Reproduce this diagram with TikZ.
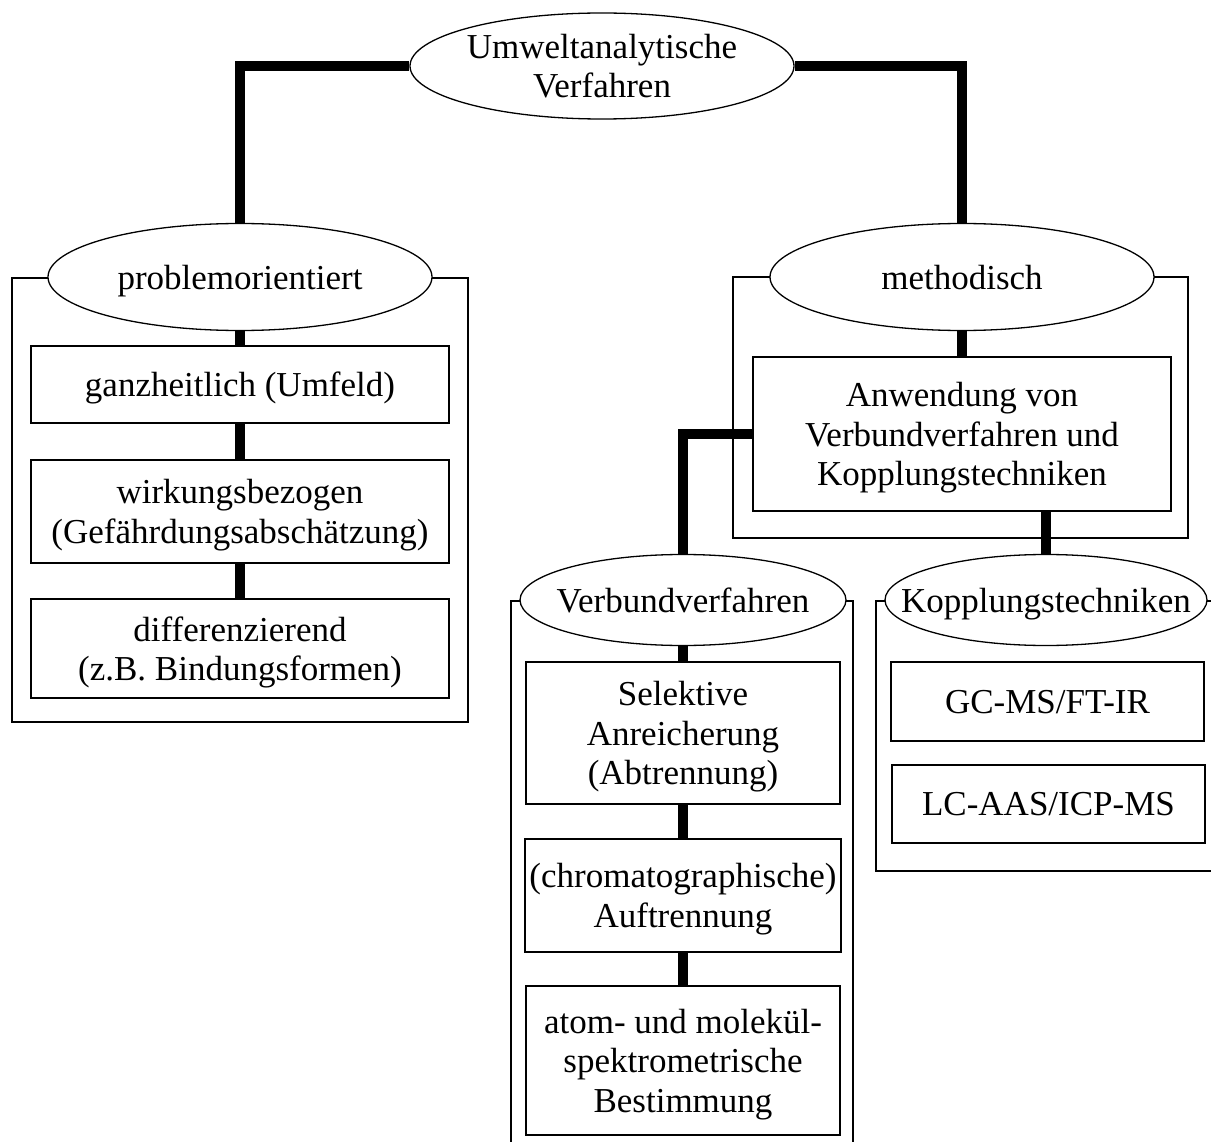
\documentclass[tikz,border=0pt]{standalone}
\usepackage{fontspec}
\setmainfont{Liberation Serif}
\usepackage{tikz}
\usetikzlibrary{shapes.geometric}

\begin{document}
\begin{tikzpicture}[x=1pt, y=-1pt,
    font=\fontsize{35}{39.5}\selectfont,
    oval/.style={draw, ellipse, fill=white, line width=1.3pt, inner sep=0pt, text depth=0pt},
    textbox/.style={draw, rectangle, fill=white, line width=1.3pt, inner sep=0pt, text depth=0pt, align=center},
    groupbox/.style={draw, rectangle, line width=1.3pt},
    joint/.style={line width=9.5pt}]
            \useasboundingbox (0,0) rectangle (1211,1142);
            \clip (0,0) rectangle (1211,1142);

            \node[groupbox, minimum width=456, minimum height=444] (probgroup) at (240,500) {};
            \node[groupbox, minimum width=455, minimum height=261] (methgroup) at (960.5,407.5) {};
            \node[groupbox, minimum width=342, minimum height=569] (verbgroup) at (682,885.5) {};
            \node[groupbox, minimum width=364, minimum height=270] (kopgroup) at (1058,736) {};

            \node[oval, minimum width=384, minimum height=106, align=center] (top) at (602,66) {\makebox[0pt]{Umweltanalytische}\\\makebox[0pt]{Verfahren}};

            \node[oval, minimum width=384, minimum height=107] (prob) at (240,277) {\makebox[0pt]{problemorientiert}};
            \node[textbox, minimum width=418, minimum height=77] (ganz) at (240,384.5) {ganzheitlich (Umfeld)};
            \node[textbox, minimum width=418, minimum height=103] (wirk) at (240,511.5) {wirkungsbezogen\\(Gefährdungsabschätzung)};
            \node[textbox, minimum width=418, minimum height=99] (diff) at (240,648.5) {differenzierend\\(z.B. Bindungsformen)};

            \node[oval, minimum width=384, minimum height=107] (meth) at (962,277) {\makebox[0pt]{methodisch}};
            \node[textbox, minimum width=418, minimum height=154] (anw) at (962,434) {Anwendung von\\Verbundverfahren und\\Kopplungstechniken};

            \node[oval, minimum width=326, minimum height=91] (verb) at (683,600) {\makebox[0pt]{Verbundverfahren}};
            \node[textbox, minimum width=314, minimum height=142] (sel) at (683,733) {Selektive\\Anreicherung\\(Abtrennung)};
            \node[textbox, minimum width=316, minimum height=113] (chrom) at (683,895.5) {(chromatographische)\\Auftrennung};
            \node[textbox, minimum width=314, minimum height=149] (atom) at (683,1060.5) {atom- und molekül-\\spektrometrische\\Bestimmung};

            \node[oval, minimum width=322, minimum height=91] (kop) at (1046,600) {\makebox[0pt]{Kopplungstechniken}};
            \node[textbox, minimum width=313, minimum height=79] (gc) at (1047.5,701.5) {GC-MS/FT-IR};
            \node[textbox, minimum width=313, minimum height=78] (lc) at (1048.5,804) {LC-AAS/ICP-MS};

            \draw[joint] (top.west) -| (prob.north);
            \draw[joint] (top.east) -| (meth.north);

            \draw[joint] (prob) -- (ganz);
            \draw[joint] (ganz) -- (wirk);
            \draw[joint] (wirk) -- (diff);

            \draw[joint] (meth) -- (anw);
            \draw[joint] (anw.west) -| (verb.north);
            \draw[joint] (anw.south -| kop.north) -- (kop.north);

            \draw[joint] (verb) -- (sel);
            \draw[joint] (sel) -- (chrom);
            \draw[joint] (chrom) -- (atom);
        \end{tikzpicture}
\end{document}
